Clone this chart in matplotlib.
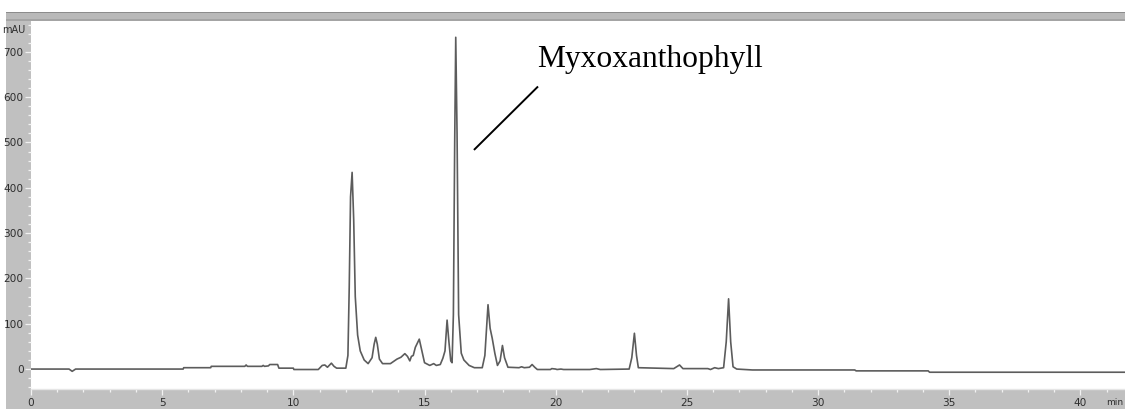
import matplotlib
matplotlib.use("Agg")
import matplotlib.pyplot as plt
from matplotlib.patches import Rectangle
from matplotlib.ticker import MultipleLocator

# Chromatogram trace (retention time in min, absorbance in mAU)
time_min = [
    0.0, 1.45, 1.57, 1.7, 5.8, 5.82, 6.85, 6.87, 8.15, 8.2, 8.25, 8.8, 8.85, 8.9,
    9.05, 9.1, 9.4, 9.45, 10.0, 10.02, 10.95, 11.1, 11.2, 11.3, 11.45, 11.55,
    11.65, 12.0, 12.08, 12.13, 12.18, 12.24, 12.3, 12.36, 12.45, 12.55, 12.7,
    12.85, 13.0, 13.08, 13.14, 13.2, 13.28, 13.4, 13.7, 13.95, 14.1, 14.25,
    14.35, 14.44, 14.5, 14.57, 14.65, 14.8, 14.9, 15.0, 15.2, 15.35, 15.45,
    15.6, 15.7, 15.78, 15.86, 15.93, 16.0, 16.05, 16.1, 16.15, 16.19, 16.24,
    16.3, 16.4, 16.5, 16.7, 16.9, 17.2, 17.3, 17.42, 17.5, 17.58, 17.68, 17.78,
    17.88, 17.97, 18.05, 18.18, 18.6, 18.7, 18.8, 19.0, 19.1, 19.2, 19.3, 19.8,
    19.85, 20.0, 20.05, 20.2, 20.3, 21.3, 21.55, 21.7, 22.8, 22.9, 23.0, 23.08,
    23.15, 24.5, 24.72, 24.85, 25.8, 25.9, 26.06, 26.2, 26.4, 26.5, 26.59,
    26.67, 26.76, 26.9, 27.5, 31.4, 31.45, 34.2, 34.25, 41.7,
]
signal_mau = [
    0, 0, -5, 0, 0, 3, 3, 6, 6, 9, 6, 6, 8, 6,
    7, 10, 10, 2, 2, -1, -1, 8, 9, 4, 13, 6,
    2, 2, 30, 180, 380, 434, 330, 160, 75, 40, 20,
    12, 25, 55, 70, 55, 22, 12, 12, 22, 26, 34,
    28, 18, 28, 30, 48, 66, 40, 14, 8, 12, 8,
    10, 24, 40, 108, 60, 18, 14, 120, 500, 732, 520,
    120, 35, 20, 8, 3, 3, 30, 142, 90, 68, 35, 8,
    18, 52, 25, 4, 3, 5, 3, 4, 10, 4, -1, -1,
    1, 0, -1, 0, -1, -1, 1, -1, 0, 25, 79, 30,
    3, 1, 9, 1, 1, -1, 3, 1, 3, 60, 155,
    60, 5, 0, -2, -2, -4, -4, -7, -7,
]

y_ticks = [0, 100, 200, 300, 400, 500, 600, 700]
x_ticks = [0, 5, 10, 15, 20, 25, 30, 35, 40]
peak_label = "Myxoxanthophyll"

W, H = 1125, 409
fig = plt.figure(figsize=(W / 100, H / 100), dpi=100)
fig.patch.set_facecolor("white")

def px_rect(x0, y0, x1, y1, color):
    # rectangle given in pixel coordinates measured from the top-left corner
    fig.add_artist(Rectangle((x0 / W, 1 - y1 / H), (x1 - x0) / W, (y1 - y0) / H,
                             transform=fig.transFigure, facecolor=color,
                             edgecolor="none", zorder=-5))

# instrument window frame: grey panel behind the plot, title bar on top
px_rect(6, 21, W, H, "#c0c0c0")
px_rect(6, 12, W, 13.5, "#8c8c8c")
px_rect(6, 13.5, W, 19, "#b9b9b9")
px_rect(6, 19, W, 20.5, "#a4a4a4")

left, right = 31 / W, 1.0
bottom, top = 1 - 389 / H, 1 - 21 / H
ax = fig.add_axes([left, bottom, right - left, top - bottom])
ax.set_facecolor("white")

ax.plot(time_min, signal_mau, color="#5c5c5c", linewidth=1.2,
        solid_joinstyle="round")

ax.set_xlim(0, 41.7)
ax.set_ylim(-44, 768)

for s in ("top", "right", "left"):
    ax.spines[s].set_visible(False)
ax.spines["bottom"].set_color("#e6e6e6")
ax.spines["bottom"].set_linewidth(1.0)

ax.set_xticks(x_ticks)
ax.set_yticks(y_ticks)
ax.xaxis.set_minor_locator(MultipleLocator(1))
ax.yaxis.set_minor_locator(MultipleLocator(20))

tick_font = ["Liberation Sans Narrow", "DejaVu Sans"]
ax.tick_params(axis="both", which="major", direction="out", length=4,
               width=0.9, color="#f2f2f2", labelcolor="#2e2e2e",
               labelsize=7.6)
ax.tick_params(axis="both", which="minor", direction="out", length=2,
               width=0.9, color="#f2f2f2")
ax.tick_params(axis="x", pad=2.2)
ax.tick_params(axis="y", pad=1.2)
for lab in ax.get_xticklabels() + ax.get_yticklabels():
    lab.set_family(tick_font)

# axis unit captions in the instrument style
ax.text(-0.005, 0.975, "mAU", transform=ax.transAxes, ha="right", va="center",
        fontsize=7, color="#2e2e2e", family=tick_font)
ax.text(0.998, -0.024, "min", transform=ax.transAxes, ha="right", va="top",
        fontsize=6.5, color="#2e2e2e", family=tick_font, clip_on=False)

# peak annotation
ax.plot([16.91, 19.3], [485, 622], color="black", linewidth=1.4)
ax.text(19.3, 666, peak_label, family=["Liberation Serif", "DejaVu Serif"],
        fontsize=22.7, color="black", ha="left", va="baseline")

fig.savefig("out.png", dpi=100)
